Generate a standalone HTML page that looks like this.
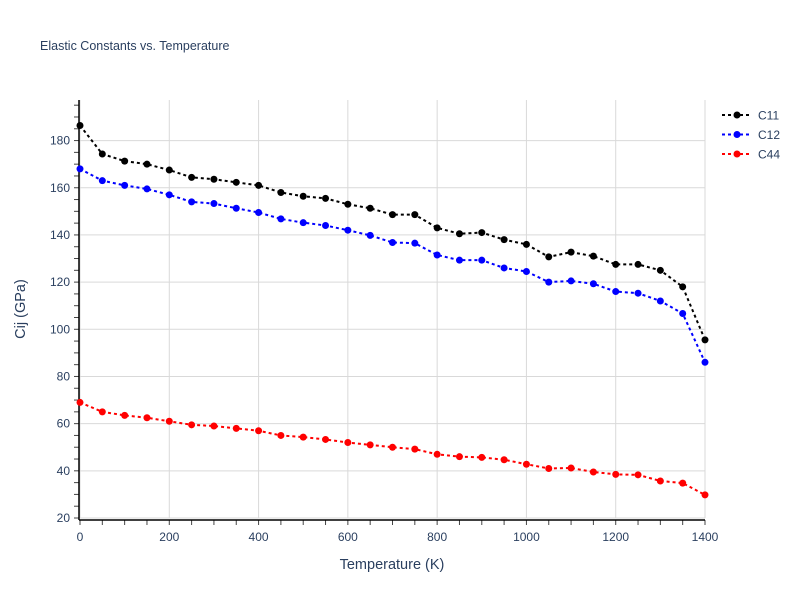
<!DOCTYPE html>
<html><head><meta charset="utf-8"><style>
body{margin:0;background:#fff;font-family:"Liberation Sans",sans-serif}
svg text{font-family:"Liberation Sans",sans-serif;fill:#2a3f5f}
</style></head><body>
<svg id="chart" width="800" height="600">
<text x="40" y="50" font-size="12.5">Elastic Constants vs. Temperature</text>
<g id="grid"></g><g id="axes"></g><g id="series"></g>
<text x="392" y="569" font-size="14.5" text-anchor="middle">Temperature (K)</text>
<text transform="translate(25,309) rotate(-90)" font-size="14.5" text-anchor="middle">Cij (GPa)</text>
<g id="legend"></g>
</svg>
<script>
const temps=[0,50,100,150,200,250,300,350,400,450,500,550,600,650,700,750,800,850,900,950,1000,1050,1100,1150,1200,1250,1300,1350,1400];
const c11=[186.4,174.3,171.3,170,167.5,164.4,163.6,162.3,161,158,156.4,155.5,153,151.3,148.6,148.6,143,140.5,141,138,136,130.7,132.7,131,127.5,127.5,125,118,95.5];
const c12=[168,163,161,159.5,157,154,153.3,151.3,149.5,146.8,145.2,144,142,139.8,136.8,136.5,131.5,129.3,129.3,126,124.5,120,120.5,119.3,116,115.3,112,106.7,86];
const c44=[69,65,63.5,62.5,61,59.5,59,58,57,55,54.3,53.3,52,51,50,49.2,47,46,45.7,44.7,42.8,41,41.2,39.5,38.5,38.3,35.7,34.8,29.8];
const seriesNames=["C11","C12","C44"];
const xTicks=[0,200,400,600,800,1000,1200,1400];
const yTicks=[20,40,60,80,100,120,140,160,180];
const NS="http://www.w3.org/2000/svg";
const X0=80,X1=705,YT=100,YB=518;
const xMin=0,xMax=1400,yMin=20,yMax=197.2;
const xs=v=>X0+(v-xMin)/(xMax-xMin)*(X1-X0);
const ys=v=>YB-(v-yMin)/(yMax-yMin)*(YB-YT);
function mk(t,a,p){const e=document.createElementNS(NS,t);for(const k in a)e.setAttribute(k,a[k]);p.appendChild(e);return e;}
const grid=document.getElementById('grid'),axes=document.getElementById('axes'),ser=document.getElementById('series'),leg=document.getElementById('legend');
xTicks.forEach(v=>{
 const l=mk('line',{x1:xs(v),x2:xs(v),y1:YT,y2:YB,stroke:'#d9d9d9','stroke-width':1},grid);
 
 
 const t=mk('text',{x:xs(v),y:541,'font-size':12,'text-anchor':'middle'},axes);t.textContent=v;
 
 
});
yTicks.forEach(v=>{
 const l=mk('line',{x1:X0,x2:X1,y1:ys(v),y2:ys(v),stroke:'#d9d9d9','stroke-width':1},grid);
 
 
 const t=mk('text',{x:70,y:ys(v)+4,'font-size':12,'text-anchor':'end'},axes);t.textContent=v;
 
 
});
for(let v=20;v<=195;v+=5){mk('line',{x1:74,x2:79,y1:ys(v),y2:ys(v),stroke:'#444','stroke-width':1},axes);}
for(let v=0;v<=1400;v+=50){mk('line',{x1:xs(v),x2:xs(v),y1:520,y2:525,stroke:'#444','stroke-width':1},axes);}
const ya=mk('line',{x1:79,x2:79,y1:YT,y2:520,stroke:'#000','stroke-width':1.5},axes);


const xa=mk('line',{x1:79,x2:X1,y1:520,y2:520,stroke:'#000','stroke-width':1.5},axes);


const data=[c11,c12,c44],cols=['#000','#0000ff','#ff0000'];
data.forEach((arr,i)=>{
 const g=mk('g',{},ser);
 
 
 mk('polyline',{points:arr.map((v,j)=>xs(temps[j])+','+ys(v)).join(' '),fill:'none',stroke:cols[i],'stroke-width':2,'stroke-dasharray':'3,3'},g);
 arr.forEach((v,j)=>{const c=mk('circle',{cx:xs(temps[j]),cy:ys(v),r:3.5,fill:cols[i]},g);
  
  });
 const ly=115+i*19.5;
 const lg=mk('g',{},leg);
 
 
 mk('line',{x1:722,x2:752,y1:ly,y2:ly,stroke:cols[i],'stroke-width':2,'stroke-dasharray':'3,3'},lg);
 mk('circle',{cx:737,cy:ly,r:3.5,fill:cols[i]},lg);
 const t=mk('text',{x:758,y:ly+4.5,'font-size':12},lg);t.textContent=seriesNames[i];
});
</script>
</body></html>
